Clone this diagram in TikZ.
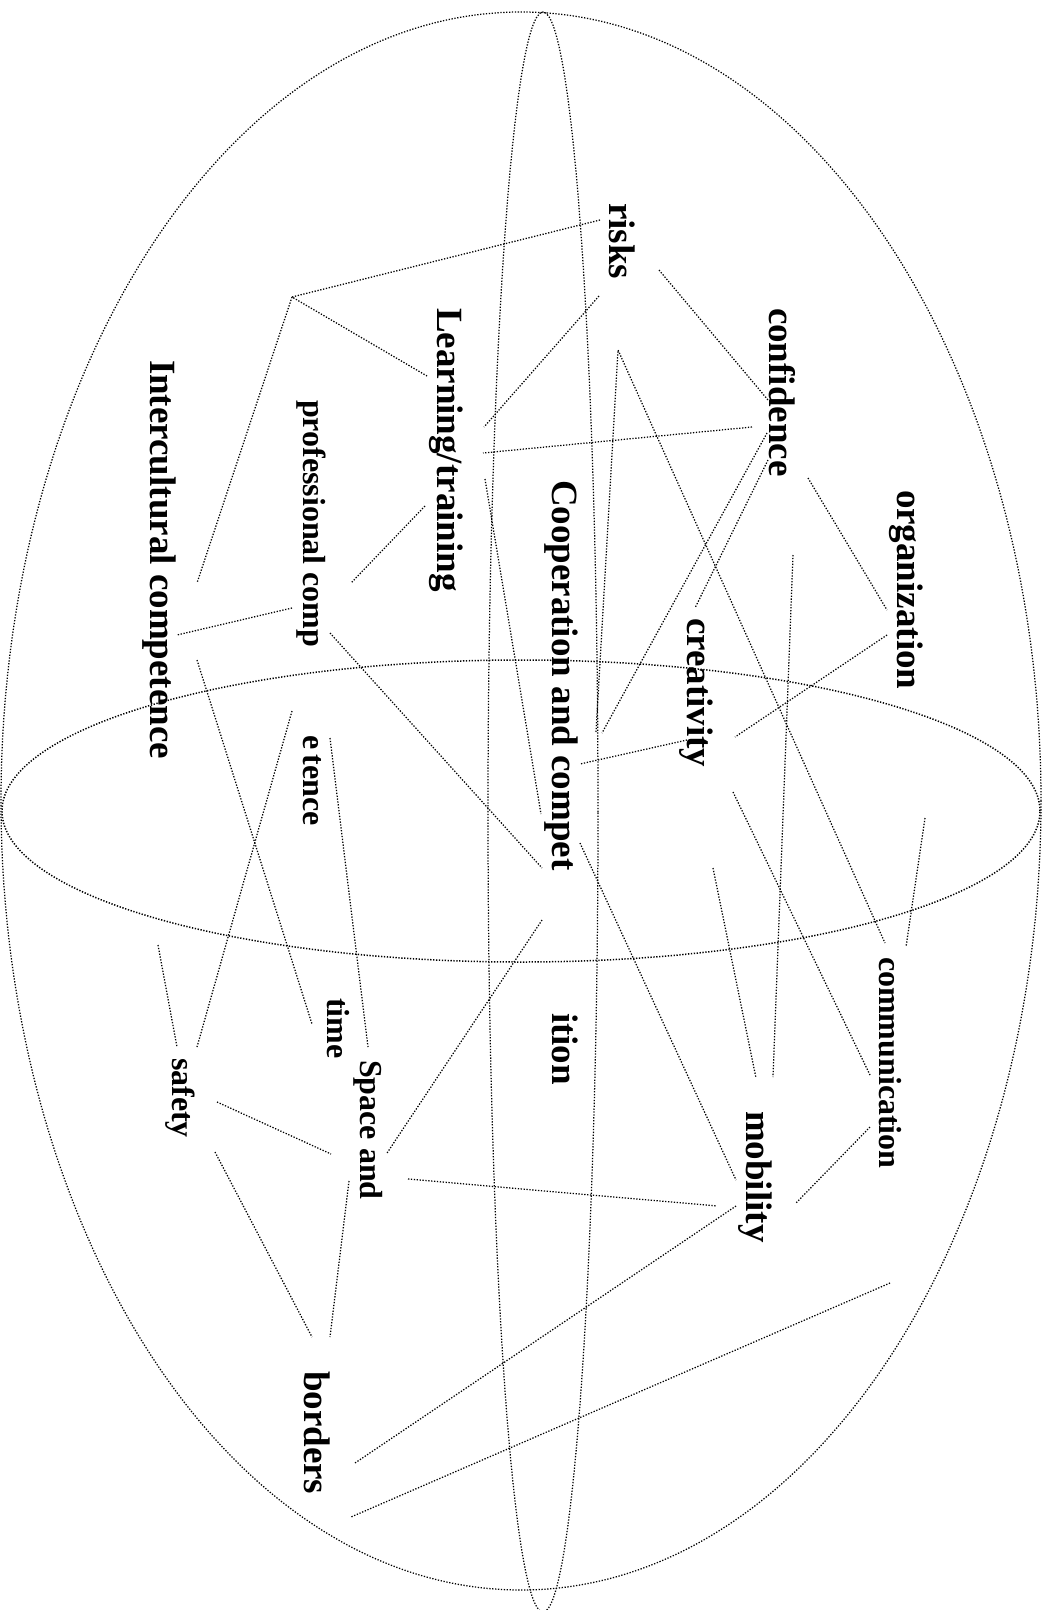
\documentclass[tikz,border=0pt]{standalone}
\usepackage{fontspec}
\setmainfont{Liberation Serif}
\begin{document}
\begin{tikzpicture}[x=1pt,y=-1pt,
  conn/.style={line width=1.25pt, dash pattern=on 1.3pt off 1.6pt},
  biglbl/.style={rotate=-90, anchor=base west, inner sep=0pt, outer sep=0pt, font=\bfseries\fontsize{37}{40}\selectfont},
  smalllbl/.style={biglbl, font=\bfseries\fontsize{32}{35}\selectfont}]
\useasboundingbox (0,0) rectangle (1045,1610);
% globe outlines
\draw[conn] (521,801) ellipse [x radius=520pt, y radius=789pt];
\draw[conn] (543,812) ellipse [x radius=55pt, y radius=800pt];
\draw[conn, line width=1.5pt] (521,811) ellipse [x radius=519pt, y radius=151pt];
% labels
\node[biglbl] (risks) at (609,203) {risks};
\node[biglbl] (learn) at (437,308) {Learning/training};
\node[biglbl] (conf) at (769,308) {confidence};
\node[biglbl] (inter) at (150,360) {Intercultural competence};
\node[biglbl] (coop) at (552,480) {Cooperation and compet};
\node[biglbl] (ition) at (552,1013) {ition};
\node[biglbl] (org) at (897,490) {organization};
\node[biglbl] (creat) at (687,618) {creativity};
\node[biglbl] (mob) at (746,1111) {mobility};
\node[biglbl] (bord) at (304,1371) {borders};
\node[smalllbl] (prof) at (303,400) {professional comp};
\node[smalllbl] (comm) at (879,957) {communication};
\node[smalllbl] (etence) at (303,735) {\spaceskip=0.17em\relax e tence};
\node[smalllbl] (time) at (327,998) {time};
\node[smalllbl] (space) at (360,1060) {Space and};
\node[smalllbl] (safety) at (172,1058) {safety};
% connector end points
\coordinate (r1) at (600,220);
\coordinate (apex) at (292,297);
\coordinate (lt1) at (427,376);
\coordinate (ic1) at (197,583);
\coordinate (r2) at (599,296);
\coordinate (lt2) at (484,427);
\coordinate (r3) at (659,270);
\coordinate (cf1) at (768,400);
\coordinate (cf2) at (752,427);
\coordinate (lt3) at (483,453);
\coordinate (r4) at (618,350);
\coordinate (co1) at (596,732);
\coordinate (cm1) at (885,943);
\coordinate (cf3) at (767,433);
\coordinate (co2) at (602,733);
\coordinate (cf4) at (768,460);
\coordinate (cr1) at (695,608);
\coordinate (cf5) at (808,478);
\coordinate (og1) at (887,610);
\coordinate (og2) at (887,635);
\coordinate (cr2) at (735,737);
\coordinate (v1) at (793,555);
\coordinate (mb1) at (773,1077);
\coordinate (cr3) at (687,740);
\coordinate (co3) at (580,764);
\coordinate (cr4) at (733,792);
\coordinate (cm2) at (870,1075);
\coordinate (cm3) at (925,818);
\coordinate (cm4) at (906,947);
\coordinate (mb2a) at (713,868);
\coordinate (mb2) at (756,1078);
\coordinate (co4) at (580,843);
\coordinate (mb3) at (736,1180);
\coordinate (co5) at (542,920);
\coordinate (sp1) at (387,1153);
\coordinate (pr1) at (330,633);
\coordinate (co6) at (542,868);
\coordinate (pr2) at (292,608);
\coordinate (ic2) at (177,635);
\coordinate (lt4) at (425,506);
\coordinate (pr3) at (351,583);
\coordinate (ic3) at (197,660);
\coordinate (tm1) at (312,1024);
\coordinate (pr4) at (292,711);
\coordinate (sf1) at (197,1047);
\coordinate (et1) at (330,738);
\coordinate (sp2) at (368,1047);
\coordinate (sf0) at (158,945);
\coordinate (sf2) at (177,1047);
\coordinate (lt5) at (485,479);
\coordinate (co7) at (541,814);
\coordinate (sf3) at (217,1102);
\coordinate (sp3) at (331,1154);
\coordinate (sf4) at (215,1152);
\coordinate (bd1) at (312,1337);
\coordinate (sp4) at (349,1181);
\coordinate (bd2) at (330,1337);
\coordinate (sp5) at (408,1179);
\coordinate (mb4) at (717,1206);
\coordinate (cm5) at (870,1127);
\coordinate (mb5) at (796,1203);
\coordinate (mb6) at (736,1206);
\coordinate (bd3) at (355,1463);
\coordinate (x1) at (890,1283);
\coordinate (bd4) at (351,1517);
% connectors
\draw[conn] (r1) -- (apex) -- (lt1);
\draw[conn] (apex) -- (ic1);
\draw[conn] (r2) -- (lt2);
\draw[conn] (r3) -- (cf1);
\draw[conn] (cf2) -- (lt3);
\draw[conn] (co1) -- (r4) -- (cm1);
\draw[conn] (cf3) -- (co2);
\draw[conn] (cf4) -- (cr1);
\draw[conn] (cf5) -- (og1);
\draw[conn] (og2) -- (cr2);
\draw[conn] (v1) -- (mb1);
\draw[conn] (cr3) -- (co3);
\draw[conn] (cr4) -- (cm2);
\draw[conn] (cm3) -- (cm4);
\draw[conn] (mb2a) -- (mb2);
\draw[conn] (co4) -- (mb3);
\draw[conn] (co5) -- (sp1);
\draw[conn] (pr1) -- (co6);
\draw[conn] (pr2) -- (ic2);
\draw[conn] (lt4) -- (pr3);
\draw[conn] (ic3) -- (tm1);
\draw[conn] (pr4) -- (sf1);
\draw[conn] (et1) -- (sp2);
\draw[conn] (sf0) -- (sf2);
\draw[conn] (lt5) -- (co7);
\draw[conn] (sf3) -- (sp3);
\draw[conn] (sf4) -- (bd1);
\draw[conn] (sp4) -- (bd2);
\draw[conn] (sp5) -- (mb4);
\draw[conn] (cm5) -- (mb5);
\draw[conn] (mb6) -- (bd3);
\draw[conn] (x1) -- (bd4);
\end{tikzpicture}
\end{document}
